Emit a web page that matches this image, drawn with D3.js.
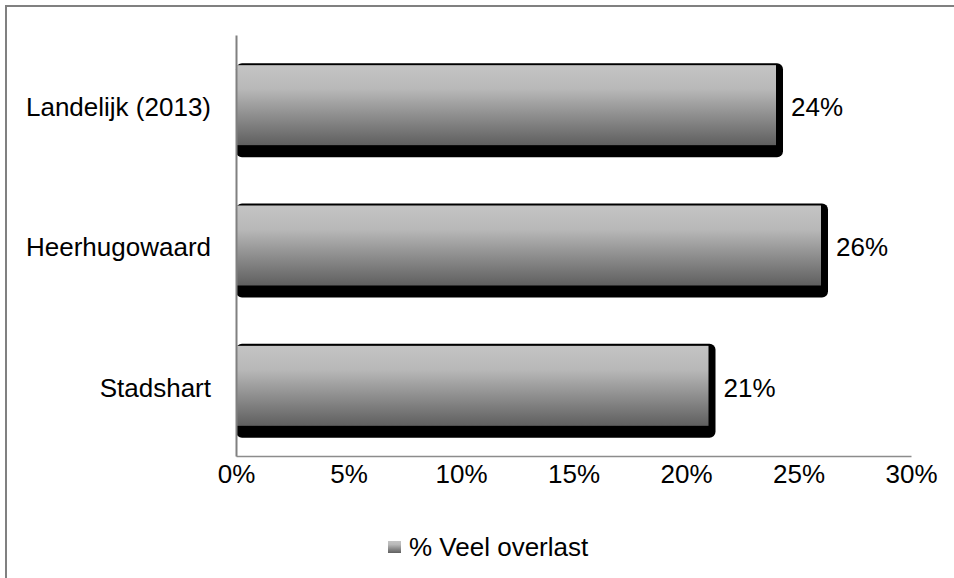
<!DOCTYPE html>
<html>
<head>
<meta charset="utf-8">
<script src="https://cdn.jsdelivr.net/npm/d3@7"></script>
<style>
  body { margin: 0; background: #fff; }
  text { font-family: "Liberation Sans", Arial, sans-serif; fill: #000; }
</style>
</head>
<body>
<div id="chart"></div>
<script>
var categories = ["Landelijk (2013)", "Heerhugowaard", "Stadshart"];
var values = [0.24, 0.26, 0.21];
var valueLabels = ["24%", "26%", "21%"];
var xTicks = [0, 0.05, 0.10, 0.15, 0.20, 0.25, 0.30];
var seriesName = "% Veel overlast";

var svg = d3.select("#chart")
    .append("svg")
    .attr("width", 954)
    .attr("height", 578);

var margin = { top: 35, left: 236 },
    width = 675,
    height = 421;

// gradient like the old 3D office bars
var defs = svg.append("defs");
var grad = defs.append("linearGradient")
    .attr("id", "barGrad")
    .attr("x1", 0).attr("y1", 0).attr("x2", 0).attr("y2", 1);
grad.append("stop").attr("offset", "0%").attr("stop-color", "#c4c4c4");
grad.append("stop").attr("offset", "30%").attr("stop-color", "#b8b8b8");
grad.append("stop").attr("offset", "100%").attr("stop-color", "#5f5f5f");

// outer border (runs off the picture right and bottom)
svg.append("rect")
    .attr("x", 6).attr("y", 6)
    .attr("width", 1000).attr("height", 1000)
    .attr("fill", "none")
    .attr("stroke", "#808080")
    .attr("stroke-width", 2);

var x = d3.scaleLinear()
    .domain([0, 0.30])
    .range([0, width]);

var y = d3.scaleBand()
    .domain(categories)
    .range([0, height])
    .paddingInner(0.43)
    .paddingOuter(0.215);

var g = svg.append("g")
    .attr("transform", "translate(" + margin.left + "," + margin.top + ")");

// bars: black rounded shadow behind, gradient face on top
var bar = g.selectAll(".bar")
    .data(categories)
    .enter().append("g")
    .attr("class", "bar");

bar.append("rect")
    .attr("x", 0)
    .attr("y", function (d) { return y(d) - 2; })
    .attr("width", function (d, i) { return x(values[i]) + 7; })
    .attr("height", y.bandwidth() + 14)
    .attr("rx", 6)
    .attr("fill", "#000");

bar.append("rect")
    .attr("x", 0)
    .attr("y", function (d) { return y(d); })
    .attr("width", function (d, i) { return x(values[i]); })
    .attr("height", y.bandwidth())
    .attr("fill", "url(#barGrad)");

bar.append("text")
    .attr("x", function (d, i) { return x(values[i]) + 15; })
    .attr("y", function (d) { return y(d) + y.bandwidth() / 2; })
    .attr("dy", "0.42em")
    .style("font-size", "26px")
    .text(function (d, i) { return valueLabels[i]; });

// axes
var xAxis = d3.axisBottom(x)
    .tickValues(xTicks)
    .tickSize(0)
    .tickPadding(9)
    .tickFormat(d3.format(".0%"));

var gx = g.append("g")
    .attr("transform", "translate(0," + height + ")")
    .call(xAxis);
gx.select(".domain").attr("stroke", "#8c8c8c").attr("stroke-width", 1.5);
gx.selectAll("text").style("font-size", "26px").attr("dy", "0.71em");

var yAxis = d3.axisLeft(y).tickSize(0).tickPadding(25);
var gy = g.append("g").call(yAxis);
gy.select(".domain").attr("stroke", "#808080").attr("stroke-width", 2);
gy.selectAll("text").style("font-size", "26px").attr("dy", "0.42em");

// legend
var legend = svg.append("g")
    .attr("transform", "translate(388,541)");
legend.append("rect")
    .attr("width", 13).attr("height", 12)
    .attr("fill", "url(#barGrad)");
legend.append("text")
    .attr("x", 21)
    .attr("y", 6)
    .attr("dy", "0.36em")
    .style("font-size", "26px")
    .text(seriesName);
</script>
</body>
</html>
